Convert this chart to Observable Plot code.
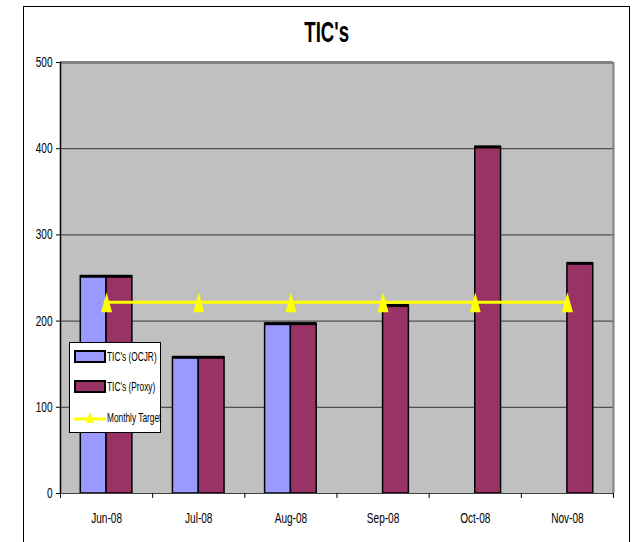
<!DOCTYPE html>
<html>
<head>
<meta charset="utf-8">
<script src="https://cdn.jsdelivr.net/npm/d3@7"></script>
<script src="https://cdn.jsdelivr.net/npm/@observablehq/plot@0.6"></script>
<style>
  html, body { margin: 0; padding: 0; background: #fff; }
  #wrap { position: relative; width: 634px; height: 542px; overflow: hidden;
    font-family: "Liberation Sans", Arial, sans-serif; }
  #frame { position: absolute; left: 23px; top: 6px; width: 605px; height: 560px;
    border: 1.5px solid #000; pointer-events: none; }
  #title { position: absolute; left: 23px; width: 607px; top: 15px; text-align: center;
    font-weight: bold; font-size: 30px; transform: scaleX(0.62); transform-origin: 304px 0; }
  #legend { position: absolute; left: 69px; top: 342px; width: 90px; height: 89px;
    background: #fff; border: 1px solid #000; font-size: 13px; }
  .item { position: absolute; left: 4px; display: flex; align-items: center; white-space: nowrap; }
  .sw { width: 28px; height: 9px; border: 2px solid #000; margin-right: 1px; flex: none; }
  .lbl { display: inline-block; transform: scaleX(0.64); transform-origin: 0 50%; }
</style>
</head>
<body>
<div id="wrap">
  <div id="chart"></div>
  <div id="frame"></div>
  <div id="title">TIC's</div>
  <div id="legend"></div>
</div>
<script>
const months = ["Jun-08", "Jul-08", "Aug-08", "Sep-08", "Oct-08", "Nov-08"];
const ocjr = [252, 158, 197, null, null, null];
const proxy = [252, 158, 197, 218, 402, 267];
const target = [222, 222, 222, 222, 222, 222];
const yTicks = [0, 100, 200, 300, 400, 500];
const seriesNames = ["TIC's (OCJR)", "TIC's (Proxy)", "Monthly Target"];
const colors = ["#9999FF", "#993366", "#FFFF00"];

const half = 0.28;
const ocjrData = months.map((m, i) => ({i, v: ocjr[i]})).filter(d => d.v != null);
const proxyData = months.map((m, i) => ({i, v: proxy[i]}));
const targetData = months.map((m, i) => ({i, v: target[i]}));
const bounds = d3.range(months.length + 1).map(k => k - 0.5);

const tallTriangle = {
  draw(ctx, size) {
    ctx.moveTo(0, -10); ctx.lineTo(5.5, 10); ctx.lineTo(-5.5, 10); ctx.closePath();
  }
};

const plot = Plot.plot({
  width: 634,
  height: 542,
  marginLeft: 60,
  marginRight: 21,
  marginTop: 62,
  marginBottom: 49,
  style: {fontFamily: "'Liberation Sans', Arial, sans-serif", fontSize: "14px", background: "transparent"},
  x: {domain: [-0.5, months.length - 0.5], label: null},
  y: {domain: [0, 500], label: null},
  marks: [
    Plot.frame({fill: "#C0C0C0"}),
    Plot.ruleY(yTicks.slice(1, -1), {stroke: "#333", strokeWidth: 1}),
    Plot.ruleY([500], {stroke: "#808080", strokeWidth: 3}),
    Plot.ruleX([months.length - 0.5], {stroke: "#808080", strokeWidth: 2}),
    Plot.rectY(ocjrData, {x1: d => d.i - half, x2: d => d.i, y1: 0, y2: "v", fill: colors[0], stroke: "#000", strokeWidth: 1.5}),
    Plot.rectY(proxyData, {x1: d => d.i, x2: d => d.i + half, y1: 0, y2: "v", fill: colors[1], stroke: "#000", strokeWidth: 1.5}),
    Plot.ruleY(ocjrData, {y: "v", x1: d => d.i - half, x2: d => d.i, stroke: "#000", strokeWidth: 3}),
    Plot.ruleY(proxyData, {y: "v", x1: d => d.i, x2: d => d.i + half, stroke: "#000", strokeWidth: 3}),
    Plot.line(targetData, {x: "i", y: "v", stroke: colors[2], strokeWidth: 3}),
    Plot.dot(targetData, {x: "i", y: "v", symbol: tallTriangle, fill: colors[2], stroke: "none"}),
    Plot.ruleY([0], {stroke: "#404040", strokeWidth: 1}),
    Plot.ruleX([-0.5], {stroke: "#000", strokeWidth: 1.5}),
    Plot.axisY({ticks: yTicks, tickSize: 4, tickPadding: 4, tickFormat: d => String(d), fontSize: 14, label: null}),
    Plot.axisX({ticks: bounds, tickSize: 5, tickFormat: () => "", stroke: "#000", label: null}),
    Plot.axisX({ticks: d3.range(months.length), tickSize: 0, tickPadding: 20, tickFormat: i => months[i], fontSize: 14, label: null})
  ]
});
document.getElementById("chart").appendChild(plot);

// condense axis tick labels (narrow font look)
plot.querySelectorAll('g[aria-label$="tick label"] text').forEach(t => {
  const tr = t.getAttribute("transform");
  if (tr) {
    t.setAttribute("transform", tr + " scale(0.72,1)");
  } else {
    const x = +t.getAttribute("x") || 0, y = +t.getAttribute("y") || 0;
    t.removeAttribute("x"); t.removeAttribute("y");
    t.setAttribute("transform", `translate(${x},${y}) scale(0.72,1)`);
  }
});

// legend
const legend = document.getElementById("legend");
const tops = [6, 36, 66];
seriesNames.forEach((name, k) => {
  const it = document.createElement("div");
  it.className = "item";
  it.style.top = tops[k] + "px";
  if (k < 2) {
    const sw = document.createElement("div");
    sw.className = "sw";
    sw.style.background = colors[k];
    it.appendChild(sw);
  } else {
    const ns = "http://www.w3.org/2000/svg";
    const s = document.createElementNS(ns, "svg");
    s.setAttribute("width", 33); s.setAttribute("height", 16);
    s.style.flex = "none";
    const ln = document.createElementNS(ns, "line");
    ln.setAttribute("x1", 0); ln.setAttribute("x2", 32); ln.setAttribute("y1", 10); ln.setAttribute("y2", 10);
    ln.setAttribute("stroke", colors[2]); ln.setAttribute("stroke-width", 3);
    const tr = document.createElementNS(ns, "path");
    tr.setAttribute("d", "M16,3L20,14L12,14Z");
    tr.setAttribute("fill", colors[2]);
    s.appendChild(ln); s.appendChild(tr);
    it.appendChild(s);
  }
  const t = document.createElement("span");
  t.className = "lbl";
  t.textContent = name;
  it.appendChild(t);
  legend.appendChild(it);
});
</script>
</body>
</html>
